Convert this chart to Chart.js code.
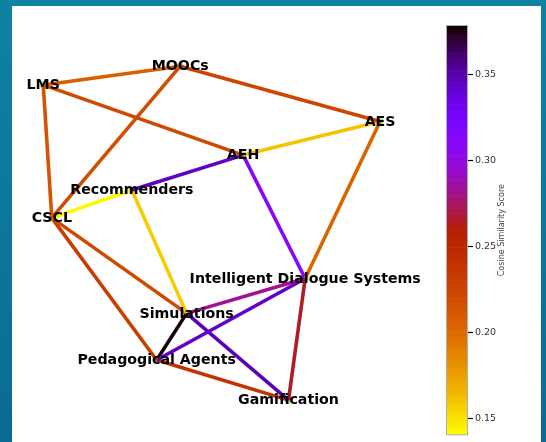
<!DOCTYPE html>
<html>
<head>
<meta charset="utf-8">
<script src="https://cdn.jsdelivr.net/npm/chart.js@4.4.1/dist/chart.umd.min.js"></script>
<style>
  html, body { margin: 0; padding: 0; }
  body {
    width: 546px; height: 442px; overflow: hidden; position: relative;
    background: linear-gradient(180deg, #0f82a2 0%, #0b6b91 100%);
  }
  #card { position: absolute; left: 12px; top: 6px; width: 529px; height: 440px; background: #fff; }
  #net { position: absolute; left: 12px; top: 6px; }
  #bar { position: absolute; left: 440px; top: 6px; }
</style>
</head>
<body>
<div id="card"></div>
<canvas id="net" width="428" height="436"></canvas>
<canvas id="bar" width="100" height="436"></canvas>
<script>
// Nodes (layout positions)
const nodes = ["LMS", "MOOCs", "AES", "AEH", "Recommenders", "CSCL",
  "Intelligent Dialogue Systems", "Simulations", "Pedagogical Agents", "Gamification"];
const nodeX = [7.3, 39.3, 86.0, 54.0, 28.0, 9.3, 68.5, 40.8, 33.8, 64.6];
const nodeY = [81.9, 86.2, 73.5, 65.8, 57.8, 51.4, 37.5, 29.5, 18.8, 9.6];

// Edges and cosine similarity
const edgeFrom = ["LMS", "LMS", "LMS", "MOOCs", "MOOCs", "AES", "AES", "AEH", "AEH",
  "Recommenders", "Recommenders", "CSCL", "CSCL", "Intelligent Dialogue Systems",
  "Intelligent Dialogue Systems", "Intelligent Dialogue Systems", "Simulations",
  "Simulations", "Pedagogical Agents"];
const edgeTo = ["MOOCs", "AEH", "CSCL", "AES", "CSCL", "AEH", "Intelligent Dialogue Systems",
  "Recommenders", "Intelligent Dialogue Systems", "CSCL", "Simulations", "Simulations",
  "Pedagogical Agents", "Simulations", "Pedagogical Agents", "Gamification",
  "Pedagogical Agents", "Gamification", "Gamification"];
const edgeScore = [0.207, 0.222, 0.214, 0.225, 0.219, 0.161, 0.204, 0.344, 0.309,
  0.143, 0.158, 0.222, 0.231, 0.283, 0.343, 0.265, 0.376, 0.348, 0.240];

const vmin = 0.141, vmax = 0.378;
const barTicks = [0.15, 0.20, 0.25, 0.30, 0.35];

// gnuplot_r colormap
function cmap(v) {
  let t = (v - vmin) / (vmax - vmin);
  t = Math.min(1, Math.max(0, t));
  const x = 1 - t;
  const r = Math.sqrt(x), g = x * x * x, b = Math.max(0, Math.sin(2 * Math.PI * x));
  return `rgb(${Math.round(r * 255)},${Math.round(g * 255)},${Math.round(b * 255)})`;
}

const pos = name => { const i = nodes.indexOf(name); return { x: nodeX[i], y: nodeY[i] }; };

const edgeSets = edgeFrom.map((f, i) => ({
  data: [pos(f), pos(edgeTo[i])],
  showLine: true,
  borderColor: cmap(edgeScore[i]),
  borderWidth: 3.6,
  pointRadius: 0,
  pointHoverRadius: 0
}));

const nodeSet = {
  data: nodes.map((n, i) => ({ x: nodeX[i], y: nodeY[i] })),
  pointRadius: 3.5,
  pointBackgroundColor: "#90ee90",
  pointBorderWidth: 0
};

const nodeLabels = {
  id: "nodeLabels",
  afterDatasetsDraw(chart) {
    const { ctx, scales } = chart;
    ctx.save();
    ctx.font = "bold 14.2px 'DejaVu Sans'";
    ctx.fillStyle = "#000";
    ctx.textAlign = "center";
    ctx.textBaseline = "middle";
    nodes.forEach((n, i) => {
      ctx.fillText(n, scales.x.getPixelForValue(nodeX[i]), scales.y.getPixelForValue(nodeY[i]) + 0.5);
    });
    ctx.restore();
  }
};

new Chart(document.getElementById("net"), {
  type: "scatter",
  data: { datasets: [...edgeSets, nodeSet] },
  options: {
    responsive: false,
    animation: false,
    layout: { padding: 0, autoPadding: false },
    plugins: { legend: { display: false }, tooltip: { enabled: false } },
    scales: {
      x: { display: false, min: 0, max: 100 },
      y: { display: false, min: 0, max: 100 }
    }
  },
  plugins: [nodeLabels]
});

// Colorbar
const barFill = {
  id: "barFill",
  beforeDatasetsDraw(chart) {
    const { ctx, chartArea: a, scales } = chart;
    ctx.save();
    const steps = 120;
    for (let k = 0; k < steps; k++) {
      const v0 = vmin + (vmax - vmin) * k / steps;
      const v1 = vmin + (vmax - vmin) * (k + 1) / steps;
      const y0 = scales.y.getPixelForValue(v0), y1 = scales.y.getPixelForValue(v1);
      ctx.fillStyle = cmap((v0 + v1) / 2);
      ctx.fillRect(a.left, y1, a.right - a.left, y0 - y1 + 0.6);
    }
    ctx.strokeStyle = "#b0b0b0";
    ctx.lineWidth = 1;
    ctx.strokeRect(a.left - 0.5, a.top - 0.5, a.right - a.left + 1, a.bottom - a.top + 1);
    // axis title, reading bottom to top
    ctx.translate(62, (a.top + a.bottom) / 2);
    ctx.rotate(-Math.PI / 2);
    ctx.font = "8px 'DejaVu Sans'";
    ctx.fillStyle = "#444";
    ctx.textAlign = "center";
    ctx.textBaseline = "middle";
    ctx.fillText("Cosine Similarity Score", 0, 0);
    ctx.restore();
  }
};

new Chart(document.getElementById("bar"), {
  type: "scatter",
  data: { datasets: [{ data: [] }] },
  options: {
    responsive: false,
    animation: false,
    layout: { padding: { left: 7, top: 20, bottom: 2, right: 0 }, autoPadding: false },
    plugins: { legend: { display: false }, tooltip: { enabled: false } },
    scales: {
      x: { display: false },
      y: {
        position: "right",
        min: vmin,
        max: vmax,
        afterFit: s => { s.width = 73; },
        afterBuildTicks: s => { s.ticks = barTicks.map(v => ({ value: v })); },
        border: { display: false },
        grid: { drawOnChartArea: false, drawTicks: true, tickLength: 6, color: "#000", tickWidth: 1.2 },
        ticks: {
          padding: 2,
          color: "#333",
          font: { family: "DejaVu Sans", size: 9.5 },
          callback: v => Number(v).toFixed(2)
        }
      }
    }
  },
  plugins: [barFill]
});
</script>
</body>
</html>
